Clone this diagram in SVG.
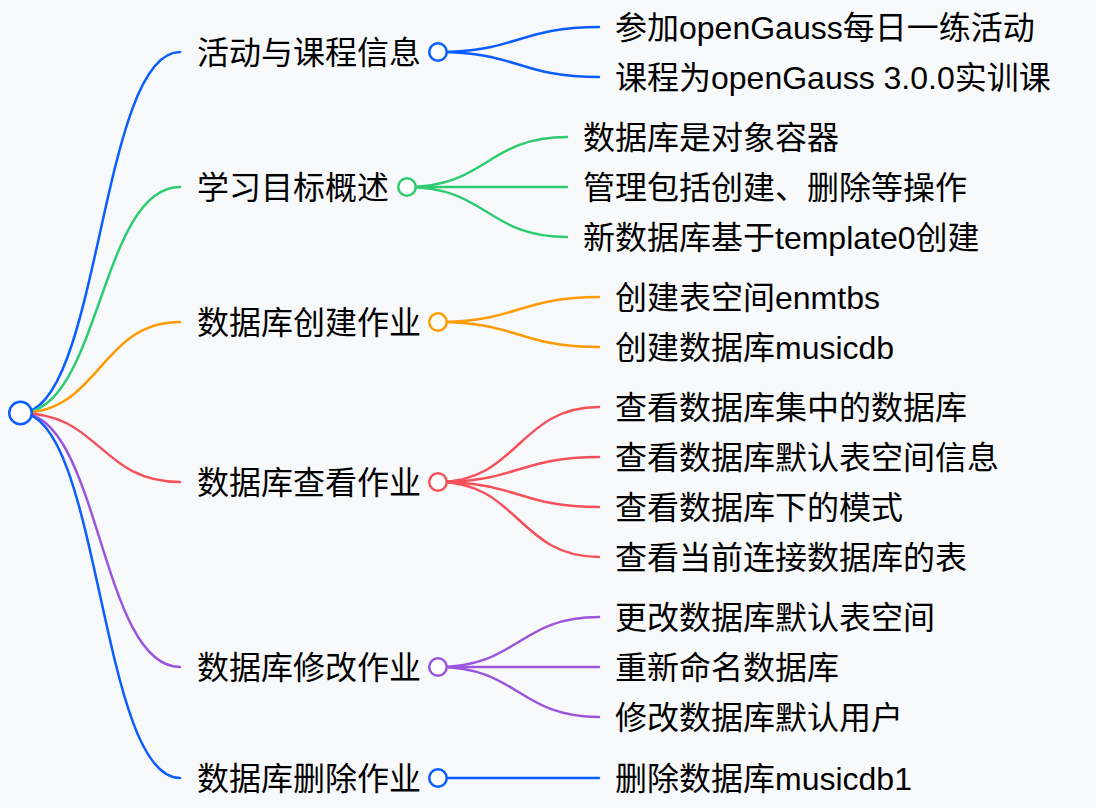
<svg xmlns="http://www.w3.org/2000/svg" width="1096" height="808" viewBox="0 0 1096 808">
<style>
.bg{fill:#f8f9fb}
.l{fill:none;stroke-width:2.5;stroke-linecap:round}
.t{font-family:"Liberation Sans","Noto Sans CJK SC",sans-serif;font-size:32px;fill:#000}
.c{fill:#fff;stroke-width:2.5}
.b{stroke:#0a5dff}.g{stroke:#2ecc71}.o{stroke:#ff9a00}.r{stroke:#f5515a}.p{stroke:#9b55dd}
</style>
<rect class="bg" x="0" y="0" width="1096" height="808"/>
<g id="connectors">
<path class="l b" d="M20.5 413 C100 413 100 52 180 52"/>
<path class="l g" d="M20.5 413 C100 413 100 187 180 187"/>
<path class="l o" d="M20.5 413 C100 413 100 322 180 322"/>
<path class="l r" d="M20.5 413 C100 413 100 482 180 482"/>
<path class="l p" d="M20.5 413 C100 413 100 667 180 667"/>
<path class="l b" d="M20.5 413 C100 413 100 778 180 778"/>
<path class="l b" d="M438 52 C518.5 52 518.5 27 599 27"/>
<path class="l b" d="M438 52 C518.5 52 518.5 77 599 77"/>
<path class="l g" d="M407 187 C487 187 487 137 567 137"/>
<path class="l g" d="M407 187 L567 187"/>
<path class="l g" d="M407 187 C487 187 487 237 567 237"/>
<path class="l o" d="M438 322 C518.5 322 518.5 297 599 297"/>
<path class="l o" d="M438 322 C518.5 322 518.5 347 599 347"/>
<path class="l r" d="M438 482 C518.5 482 518.5 407 599 407"/>
<path class="l r" d="M438 482 C518.5 482 518.5 457 599 457"/>
<path class="l r" d="M438 482 C518.5 482 518.5 507 599 507"/>
<path class="l r" d="M438 482 C518.5 482 518.5 557 599 557"/>
<path class="l p" d="M438 667 C518.5 667 518.5 617 599 617"/>
<path class="l p" d="M438 667 L599 667"/>
<path class="l p" d="M438 667 C518.5 667 518.5 717 599 717"/>
<path class="l b" d="M438 778 L599 778"/>
</g>
<g id="root"><circle class="c b" cx="20.5" cy="413" r="11.25"/></g>
<g id="n1"><text class="t" x="197" y="64">活动与课程信息</text><circle class="c b" cx="438" cy="52" r="8.75"/></g>
<g id="n1a"><text class="t" x="615" y="39">参加openGauss每日一练活动</text></g>
<g id="n1b"><text class="t" x="615" y="89">课程为openGauss 3.0.0实训课</text></g>
<g id="n2"><text class="t" x="197" y="199">学习目标概述</text><circle class="c g" cx="407" cy="187" r="8.75"/></g>
<g id="n2a"><text class="t" x="583" y="149">数据库是对象容器</text></g>
<g id="n2b"><text class="t" x="583" y="199">管理包括创建、删除等操作</text></g>
<g id="n2c"><text class="t" x="583" y="249">新数据库基于template0创建</text></g>
<g id="n3"><text class="t" x="197" y="334">数据库创建作业</text><circle class="c o" cx="438" cy="322" r="8.75"/></g>
<g id="n3a"><text class="t" x="615" y="309">创建表空间enmtbs</text></g>
<g id="n3b"><text class="t" x="615" y="359">创建数据库musicdb</text></g>
<g id="n4"><text class="t" x="197" y="494">数据库查看作业</text><circle class="c r" cx="438" cy="482" r="8.75"/></g>
<g id="n4a"><text class="t" x="615" y="419">查看数据库集中的数据库</text></g>
<g id="n4b"><text class="t" x="615" y="469">查看数据库默认表空间信息</text></g>
<g id="n4c"><text class="t" x="615" y="519">查看数据库下的模式</text></g>
<g id="n4d"><text class="t" x="615" y="569">查看当前连接数据库的表</text></g>
<g id="n5"><text class="t" x="197" y="679">数据库修改作业</text><circle class="c p" cx="438" cy="667" r="8.75"/></g>
<g id="n5a"><text class="t" x="615" y="629">更改数据库默认表空间</text></g>
<g id="n5b"><text class="t" x="615" y="679">重新命名数据库</text></g>
<g id="n5c"><text class="t" x="615" y="729">修改数据库默认用户</text></g>
<g id="n6"><text class="t" x="197" y="790">数据库删除作业</text><circle class="c b" cx="438" cy="778" r="8.75"/></g>
<g id="n6a"><text class="t" x="615" y="790">删除数据库musicdb1</text></g>
</svg>
